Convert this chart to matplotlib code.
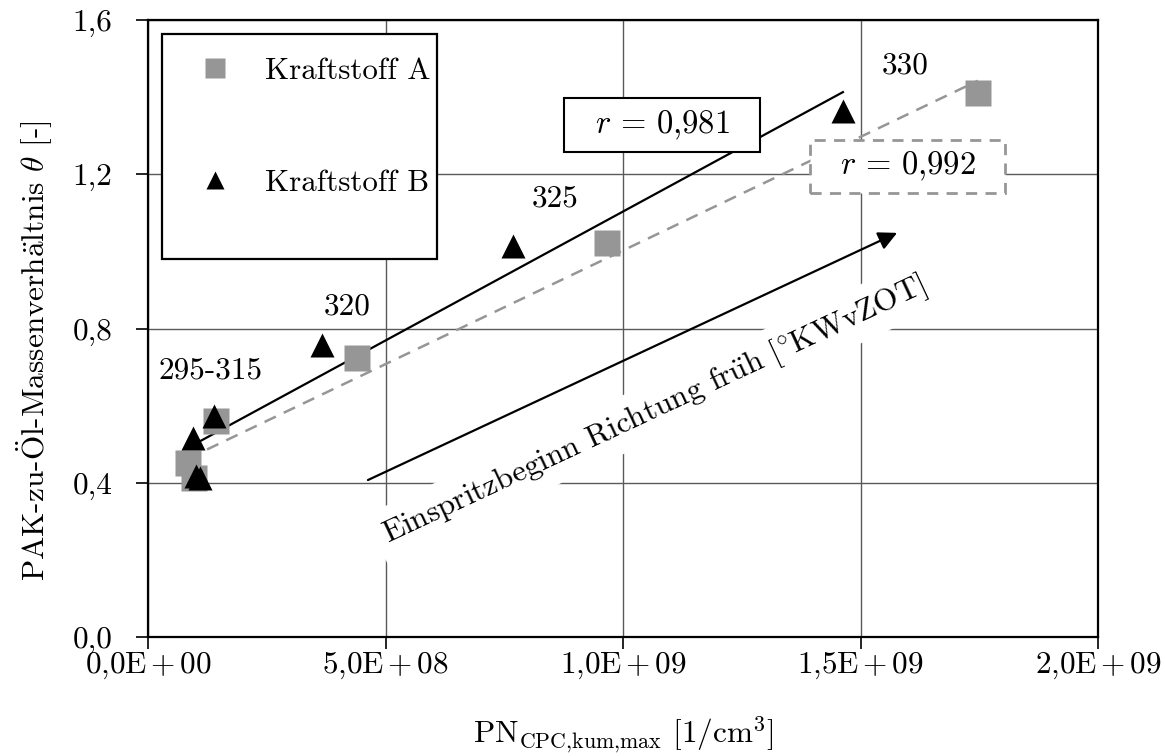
import matplotlib
matplotlib.use("Agg")
import matplotlib.pyplot as plt
from matplotlib.ticker import FuncFormatter
from matplotlib.patches import Rectangle

plt.rcParams['font.family'] = ['cmr10', 'DejaVu Serif']
plt.rcParams['mathtext.fontset'] = 'cm'
plt.rcParams['axes.unicode_minus'] = False

# ---- data ----
fuel_A_x = [0.084e9, 0.097e9, 0.143e9, 0.440e9, 0.966e9, 1.747e9]
fuel_A_y = [0.451, 0.412, 0.560, 0.724, 1.022, 1.411]
fuel_B_x = [0.095e9, 0.101e9, 0.110e9, 0.139e9, 0.366e9, 0.768e9, 1.463e9]
fuel_B_y = [0.516, 0.418, 0.413, 0.573, 0.757, 1.014, 1.364]

trend_A_x = [0.084e9, 1.747e9]
trend_A_y = [0.4625, 1.4425]
trend_B_x = [0.095e9, 1.463e9]
trend_B_y = [0.498, 1.413]

r_A = "0{,}992"
r_B = "0{,}981"

labels_text = ["295-315", "320", "325", "330"]
labels_x = [0.131e9, 0.419e9, 0.857e9, 1.594e9]
labels_y = [0.690, 0.858, 1.136, 1.483]

arrow_start = (0.463e9, 0.407)
arrow_end = (1.577e9, 1.048)
arrow_label = r"Einspritzbeginn Richtung fr$\ddot{\mathrm{u}}$h [$^{\circ}$KWvZOT]"

x_ticks = [0, 0.5e9, 1.0e9, 1.5e9, 2.0e9]
y_ticks = [0.0, 0.4, 0.8, 1.2, 1.6]

gray = '#969696'
FS = 22.5

fig = plt.figure(figsize=(11.65, 7.56), dpi=100)
ax = fig.add_axes([148/1165, 119/756, 950/1165, 617/756])

ax.set_xlim(0, 2.0e9)
ax.set_ylim(0, 1.6)
ax.set_xticks(x_ticks)
ax.set_yticks(y_ticks)

def xfmt(v, pos):
    m, e = f"{v:.1E}".split("E")
    m = m.replace('.', '{,}')
    return r"$" + m + r"\mathrm{E}\,{+}\," + f"{int(e[1:]):02d}" + r"$"

ax.xaxis.set_major_formatter(FuncFormatter(xfmt))
ax.yaxis.set_major_formatter(FuncFormatter(lambda v, p: f"{v:.1f}".replace('.', ',')))

ax.grid(True, color='#5a5a5a', linewidth=1.0, zorder=0)
ax.set_axisbelow(True)
for s in ax.spines.values():
    s.set_linewidth(1.6)
    s.set_zorder(6)
ax.tick_params(axis='both', direction='out', length=8.5, width=1.2, labelsize=FS)
ax.tick_params(axis='y', pad=17)
ax.tick_params(axis='x', pad=1)

# trend lines
ax.plot(trend_B_x, trend_B_y, color='black', lw=1.6, zorder=2)
ax.plot(trend_A_x, trend_A_y, color=gray, lw=1.8, ls=(0, (5, 3.5)), zorder=2)

# data
ax.plot(fuel_A_x, fuel_A_y, ls='none', marker='s', ms=18.5, color=gray, mec='none',
        label='Kraftstoff A', zorder=3)
ax.plot(fuel_B_x, fuel_B_y, ls='none', marker='^', ms=17.5, color='black', mec='none',
        label='Kraftstoff B', zorder=3)

# r boxes (frames in axes fraction, text centred in them)
RFS = 23.5
boxB = (0.4379, 0.7861, 0.2063, 0.0875)
boxA = (0.6968, 0.7196, 0.2053, 0.0859)
ax.add_patch(Rectangle(boxB[:2], boxB[2], boxB[3], transform=ax.transAxes,
                       facecolor='white', edgecolor='black', lw=1.5, zorder=5))
ax.add_patch(Rectangle(boxA[:2], boxA[2], boxA[3], transform=ax.transAxes,
                       facecolor='white', edgecolor=gray, lw=2, ls=(0, (4, 3)), zorder=5))
ax.text(boxB[0] + boxB[2] / 2, boxB[1] + boxB[3] / 2, r"$r\,=\," + r_B + "$", fontsize=RFS,
        ha='center', va='center', transform=ax.transAxes, zorder=6)
ax.text(boxA[0] + boxA[2] / 2, boxA[1] + boxA[3] / 2, r"$r\,=\," + r_A + "$", fontsize=RFS,
        ha='center', va='center', transform=ax.transAxes, zorder=6)

# point labels
for t, x, y in zip(labels_text, labels_x, labels_y):
    ax.text(x, y, t, fontsize=FS, ha='center', va='center', zorder=4)

# rotated arrow label with white background
ax.text(1.067e9, 0.589, arrow_label, fontsize=FS, ha='center', va='center', rotation=25,
        rotation_mode='anchor', zorder=3.5,
        bbox=dict(boxstyle='square,pad=0.3', facecolor='white', edgecolor='none'))

ax.annotate('', xy=arrow_end, xytext=arrow_start,
            arrowprops=dict(arrowstyle='-|>', mutation_scale=28, lw=1.6, color='black',
                            shrinkA=0, shrinkB=0), zorder=4)

# legend
ax.add_patch(Rectangle((0.0147, 0.6126), 0.2895, 0.3644, transform=ax.transAxes,
                       facecolor='white', edgecolor='black', lw=1.6, zorder=4.5))
leg = ax.legend(loc='upper left', bbox_to_anchor=(0.0379, 0.940), frameon=False, fontsize=22.3,
                markerscale=0.77, handlelength=2.0, handletextpad=0.61, labelspacing=2.71,
                borderpad=0, borderaxespad=0)
leg.set_zorder(5)

ax.set_xlabel(r"PN$_{\mathrm{CPC{,}kum{,}max}}$ [1/cm$^3$]", fontsize=FS)
ax.xaxis.set_label_coords(0.5, -0.126)
ax.set_ylabel(r"PAK-zu-$\ddot{\mathrm{O}}$l-Massenverh$\ddot{\mathrm{a}}$ltnis $\theta$ [-]", fontsize=FS)
ax.yaxis.set_label_coords(-0.0975, 0.4635)

fig.savefig("out.png", dpi=100)
